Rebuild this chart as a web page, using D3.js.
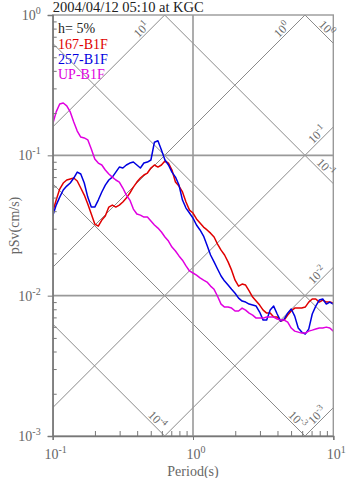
<!DOCTYPE html>
<html><head><meta charset="utf-8">
<script src="https://cdn.jsdelivr.net/npm/d3@7"></script>
<style>
html,body{margin:0;padding:0;background:#fff;}
svg{display:block;font-family:"Liberation Serif","Times New Roman",serif;}
</style></head>
<body><svg id="chart" width="347" height="478"></svg>
<script>
// ---- data ----
const periods = [0.1,0.1059,0.1122,0.1189,0.1259,0.1334,0.1413,0.1496,0.1585,0.1679,
0.1778,0.1884,0.1995,0.2113,0.2239,0.2371,0.2512,0.2661,0.2818,0.2985,
0.3162,0.3350,0.3548,0.3758,0.3981,0.4217,0.4467,0.4732,0.5012,0.5309,
0.5623,0.5957,0.6310,0.6683,0.7079,0.7499,0.7943,0.8414,0.8913,0.9441,
1.0,1.059,1.122,1.189,1.259,1.334,1.413,1.496,1.585,1.679,
1.778,1.884,1.995,2.113,2.239,2.371,2.512,2.661,2.818,2.985,
3.162,3.350,3.548,3.758,3.981,4.217,4.467,4.732,5.012,5.309,
5.623,5.957,6.310,6.683,7.079,7.499,7.943,8.414,8.913,9.441,10.0];

const sv167 = [0.0394,0.0480,0.0575,0.0635,0.0667,0.0678,0.0689,0.0656,0.0585,0.0521,
0.0450,0.0382,0.0324,0.0313,0.0346,0.0369,0.0428,0.0442,0.0428,0.0442,
0.0465,0.0496,0.0539,0.0594,0.0645,0.0689,0.0724,0.0748,0.0812,0.0853,
0.0825,0.0853,0.0911,0.0881,0.0786,0.0645,0.0604,0.0548,0.0465,0.0407,
0.0388,0.0352,0.0329,0.0308,0.0294,0.0279,0.0262,0.0233,0.0211,0.0195,
0.0174,0.0152,0.0129,0.0117,0.0121,0.0119,0.0108,0.00977,0.00915,0.00857,
0.00789,0.00751,0.00751,0.00704,0.00704,0.00659,0.00670,0.00727,0.00777,0.00816,
0.00816,0.00816,0.00829,0.00900,0.00946,0.00946,0.00900,0.00930,0.00900,0.00900,0.00886];

const sv257 = [0.0369,0.0442,0.0504,0.0566,0.0604,0.0635,0.0689,0.0760,0.0736,0.0635,
0.0504,0.0428,0.0428,0.0480,0.0548,0.0614,0.0667,0.0700,0.0760,0.0825,
0.0812,0.0853,0.0881,0.0896,0.0853,0.0812,0.0881,0.0896,0.0926,0.124,
0.127,0.109,0.0926,0.0853,0.0760,0.0700,0.0614,0.0480,0.0421,0.0388,
0.0357,0.0319,0.0294,0.0266,0.0229,0.0195,0.0174,0.0155,0.0138,0.0127,
0.0119,0.0111,0.0104,0.00961,0.00915,0.00900,0.00871,0.00857,0.00843,0.00764,
0.00670,0.00670,0.00789,0.00843,0.00740,0.00659,0.00681,0.00751,0.00803,0.00715,
0.00588,0.00550,0.00533,0.00578,0.00740,0.00843,0.00930,0.00946,0.00871,0.00900,0.00871];

const svUP = [0.167,0.204,0.232,0.236,0.225,0.204,0.173,0.149,0.135,0.133,
0.129,0.111,0.0941,0.0881,0.0853,0.0786,0.0736,0.0700,0.0667,0.0645,
0.0585,0.0521,0.0480,0.0414,0.0382,0.0375,0.0363,0.0363,0.0340,0.0319,
0.0303,0.0284,0.0262,0.0245,0.0222,0.0208,0.0192,0.0179,0.0163,0.0150,
0.0145,0.0140,0.0134,0.0129,0.0125,0.0117,0.0111,0.0099,0.00871,0.00829,
0.00829,0.00816,0.00777,0.00777,0.00816,0.00789,0.00751,0.00727,0.00692,0.00692,
0.00692,0.00704,0.00704,0.00704,0.00681,0.00670,0.00670,0.00648,0.00588,0.00559,
0.00550,0.00541,0.00541,0.00559,0.00568,0.00578,0.00588,0.00588,0.00597,0.00588,0.00559];

const seriesNames = ["167-B1F","257-B1F","UP-B1F"];
const seriesColors = ["#e00000","#0000e0","#e000e0"];
const xTickExps = [-1,0,1];
const yTickExps = [-3,-2,-1,0];
const sdExps = [0,-1,-2,-3,-4];        // constant displacement (cm), descending
const sdLabelled = [0,-1,-3,-4];
const saExps = [1,0,-1,-2,-3];         // constant acceleration (cm/s2), rising
const title = "2004/04/12 05:10 at KGC";
const dampingText = "h= 5%";

// ---- layout ----
const svg = d3.select("#chart");
const L = 52.7, R = 333.3, T = 15, B = 436;
const x = d3.scaleLog().domain([0.1,10]).range([L,R]);
const y = d3.scaleLog().domain([1e-3,1]).range([B,T]);
const gray = "#8a8a8a";

svg.append("defs").append("clipPath").attr("id","clip")
  .append("rect").attr("x",L).attr("y",T).attr("width",R-L).attr("height",B-T);

const plot = svg.append("g").attr("clip-path","url(#clip)");

// tripartite diagonal lines
const TWO_PI = 2*Math.PI;
const tEnds = [0.01, 100];
sdExps.forEach(k=>{
  plot.append("line")
    .attr("x1",x(tEnds[0])).attr("y1",y(TWO_PI*Math.pow(10,k)/tEnds[0]))
    .attr("x2",x(tEnds[1])).attr("y2",y(TWO_PI*Math.pow(10,k)/tEnds[1]))
    .attr("stroke",gray).attr("stroke-width",1);
});
saExps.forEach(k=>{
  plot.append("line")
    .attr("x1",x(tEnds[0])).attr("y1",y(Math.pow(10,k)*tEnds[0]/TWO_PI))
    .attr("x2",x(tEnds[1])).attr("y2",y(Math.pow(10,k)*tEnds[1]/TWO_PI))
    .attr("stroke",gray).attr("stroke-width",1);
});

// grid
[1e-2,1e-1].forEach(v=>{
  plot.append("line").attr("x1",L).attr("x2",R).attr("y1",y(v)).attr("y2",y(v))
   .attr("stroke","#999").attr("stroke-width",1.6);
});
plot.append("line").attr("x1",x(1)).attr("x2",x(1)).attr("y1",T).attr("y2",B)
   .attr("stroke","#999").attr("stroke-width",1.6);

// frame
svg.append("rect").attr("x",L).attr("y",T).attr("width",R-L).attr("height",B-T)
  .attr("fill","none").attr("stroke","#999").attr("stroke-width",1.4);

// diagonal labels
function supText(g, base, exp, size){
  const t = g.append("text").attr("font-size",size).attr("fill","#6a6a6a");
  t.append("tspan").text(base);
  t.append("tspan").attr("dy",-size*0.4).attr("font-size",size*0.75).text(exp);
  return t;
}
function labelAt(px,py,angle){
  return svg.append("g").attr("transform",`translate(${px},${py}) rotate(${angle})`);
}
saExps.forEach(k=>{
  let tx = TWO_PI*1/Math.pow(10,k); // T where pSv=1
  let ex, ey;
  if (tx <= 10){ ex = x(tx); ey = y(1); } else { ex = x(10); ey = y(Math.pow(10,k)*10/TWO_PI); }
  const back = (tx <= 10) ? 13 : 5;
  const px = ex - back, py = ey + back;
  const g = labelAt(px - 1.5, py - 1.5, -45);
  supText(g,"10",String(k),12).attr("text-anchor","end");
});
sdLabelled.forEach(k=>{
  let tb = TWO_PI*Math.pow(10,k)/1e-3; // T where pSv=1e-3
  let ex, ey;
  if (tb <= 10){ ex = x(tb); ey = y(1e-3); } else { ex = x(10); ey = y(TWO_PI*Math.pow(10,k)/10); }
  const back = 5;
  const px = ex - back, py = ey - back;
  const g = labelAt(px + 1.5, py - 1.5, 45);
  supText(g,"10",String(k),12).attr("text-anchor","end");
});

// axes
const minor = [];
for (let e=-3;e<0;e++) for (let m=1;m<10;m++) minor.push(m*Math.pow(10,e));
minor.push(1);
const yMajor = yTickExps.map(e=>Math.pow(10,e));
svg.append("g").attr("transform",`translate(${L},0)`)
  .call(d3.axisLeft(y).tickValues(minor.filter(v=>!yMajor.some(m=>Math.abs(m-v)<1e-12))).tickSize(-4).tickFormat(()=>""))
  .call(g=>{g.select(".domain").remove(); g.selectAll("line").attr("stroke","#777");});
svg.append("g").attr("transform",`translate(${L},0)`)
  .call(d3.axisLeft(y).tickValues(yMajor).tickSize(5).tickFormat(()=>""))
  .call(g=>{g.select(".domain").attr("stroke","#777").attr("stroke-width",1.4); g.selectAll("line").attr("stroke","#777");});
const xminor = [];
for (let e=-1;e<1;e++) for (let m=2;m<10;m++) xminor.push(m*Math.pow(10,e));
const xMajor = xTickExps.map(e=>Math.pow(10,e));
svg.append("g").attr("transform",`translate(0,${B})`)
  .call(d3.axisBottom(x).tickValues(xminor).tickSize(-5).tickFormat(()=>""))
  .call(g=>{g.select(".domain").remove(); g.selectAll("line").attr("stroke","#777");});
svg.append("g").attr("transform",`translate(0,${B})`)
  .call(d3.axisBottom(x).tickValues(xMajor).tickSize(4).tickFormat(()=>""))
  .call(g=>{g.select(".domain").attr("stroke","#777").attr("stroke-width",1.4); g.selectAll("line").attr("stroke","#777");});

// tick labels
yTickExps.forEach(e=>{
  const t = svg.append("text").attr("x",L-12).attr("y",y(Math.pow(10,e))+5)
    .attr("text-anchor","end").attr("font-size",14).attr("fill","#666");
  t.append("tspan").text("10");
  t.append("tspan").attr("dy",-6).attr("font-size",10).text(String(e));
});
xTickExps.forEach(e=>{
  const t = svg.append("text").attr("x",x(Math.pow(10,e))+3).attr("y",B+23)
    .attr("text-anchor","middle").attr("font-size",14).attr("fill","#666");
  t.append("tspan").text("10");
  t.append("tspan").attr("dy",-6).attr("font-size",10).text(String(e));
});

// axis titles
svg.append("text").attr("x",(L+R)/2).attr("y",475.5).attr("text-anchor","middle")
  .attr("font-size",14).attr("fill","#666").text("Period(s)");
svg.append("text").attr("transform",`translate(19,${(T+B)/2}) rotate(-90)`)
  .attr("text-anchor","middle").attr("font-size",14).attr("fill","#666").text("pSv(cm/s)");

// title
svg.append("text").attr("x",L).attr("y",12).attr("font-size",14.5).attr("fill","#222").text(title);

// data lines
const line = d3.line().x((d,i)=>x(periods[i])).y(d=>y(d));
[sv167, sv257, svUP].forEach((s,i)=>{
  plot.append("path").datum(s).attr("d",line).attr("fill","none")
    .attr("stroke",seriesColors[i]).attr("stroke-width",1.5).attr("stroke-linejoin","round");
});

// legend
svg.append("text").attr("x",58).attr("y",33).attr("font-size",14).attr("fill","#222").text(dampingText);
seriesNames.forEach((n,i)=>{
  svg.append("text").attr("x",58).attr("y",48.5+i*15).attr("font-size",14)
    .attr("fill",seriesColors[i]).text(n);
});
</script></body></html>
